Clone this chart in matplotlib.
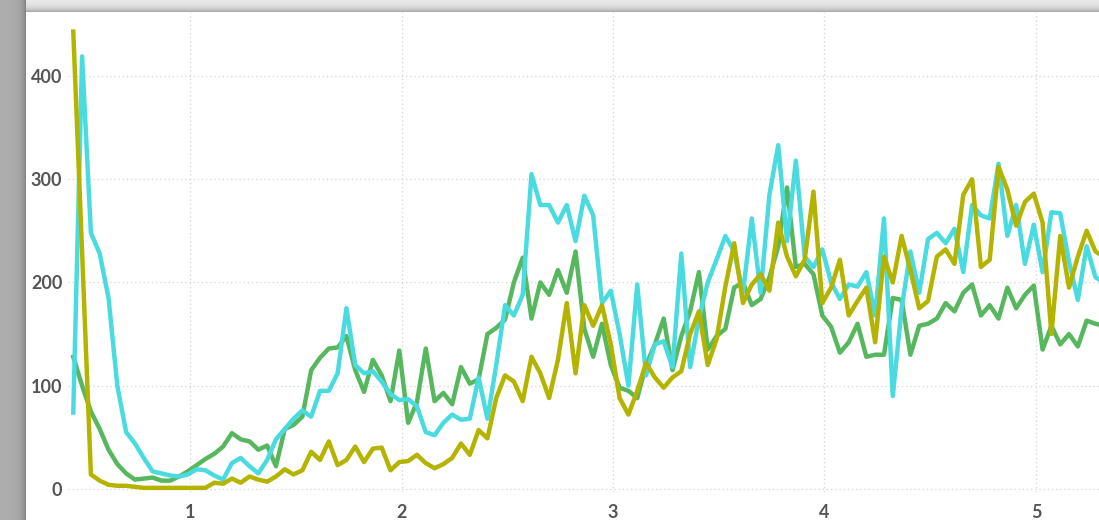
import numpy as np
import matplotlib
matplotlib.use("Agg")
import matplotlib.pyplot as plt

# hourly readings, x axis is in days
start_hour = 10.75

cyan = [74, 419, 248, 228, 185, 100, 55, 44, 30, 17, 15, 13, 12, 14, 19, 18, 13, 9, 25, 30,
        22, 15, 28, 48, 58, 68, 76, 70, 95, 95, 112, 175, 120, 112, 114, 104, 92, 86, 87, 80,
        55, 52, 64, 72, 67, 68, 108, 68, 120, 178, 168, 188, 305, 275, 275, 258, 275, 240, 284, 265,
        180, 192, 150, 100, 198, 110, 140, 143, 118, 228, 118, 165, 200, 222, 245, 230, 190, 262, 190, 285,
        333, 240, 318, 225, 215, 232, 200, 184, 198, 196, 210, 168, 262, 90, 175, 230, 190, 242, 248, 238,
        252, 210, 275, 265, 262, 315, 245, 275, 218, 256, 210, 268, 267, 220, 183, 235, 205, 200]

green = [128, 100, 75, 58, 38, 24, 15, 9, 10, 11, 8, 8, 12, 17, 23, 29, 34, 41, 54, 48,
         46, 38, 42, 22, 58, 62, 70, 115, 127, 136, 137, 148, 115, 94, 125, 110, 85, 134, 64, 84,
         136, 85, 93, 82, 118, 102, 106, 150, 156, 164, 200, 224, 165, 200, 188, 212, 190, 230, 155, 128,
         160, 120, 98, 95, 88, 120, 140, 165, 115, 148, 172, 210, 135, 148, 155, 195, 200, 178, 184, 205,
         235, 292, 215, 218, 208, 168, 157, 132, 142, 160, 128, 130, 130, 185, 183, 130, 158, 160, 165, 180,
         172, 190, 198, 168, 178, 165, 195, 175, 188, 197, 135, 158, 140, 150, 138, 163, 160, 158]

olive = [443, 230, 14, 8, 4, 3, 3, 2, 1, 1, 1, 1, 1, 1, 1, 1, 6, 5, 10, 6,
         12, 9, 7, 12, 19, 14, 18, 36, 28, 46, 23, 28, 41, 26, 39, 40, 18, 26, 27, 33,
         25, 20, 24, 30, 44, 33, 57, 49, 88, 110, 104, 85, 128, 112, 88, 125, 180, 112, 178, 158,
         178, 140, 88, 72, 95, 122, 108, 98, 108, 114, 150, 172, 120, 145, 196, 238, 180, 198, 208, 192,
         258, 225, 206, 222, 288, 180, 195, 222, 168, 182, 195, 142, 225, 200, 245, 212, 175, 182, 225, 232,
         218, 285, 300, 215, 222, 312, 290, 255, 278, 286, 258, 150, 245, 195, 225, 250, 230, 225]

x_ticks = [1, 2, 3, 4, 5]
y_ticks = [0, 100, 200, 300, 400]

x = (np.arange(len(cyan)) + start_hour) / 24

W, H = 1099, 520
fig = plt.figure(figsize=(W / 100, H / 100), dpi=100)

# drop shadow around the white panel (top and left edges)
bg = fig.add_axes([0, 0, 1, 1])
yy, xx = np.mgrid[0:H, 0:W]
shade = np.ones((H, W))
left = xx < 26
top = yy < 12
shade[top] = 0.93 - 0.33 * np.exp(-(12 - yy[top]) / 4.0)
shade[left] = 0.68 - 0.2 * np.exp(-(26 - xx[left]) / 4.0)
bg.imshow(np.dstack([shade] * 3), aspect="auto", interpolation="bilinear")
bg.axis("off")

ax = fig.add_axes([68 / W, 28 / H, 1 - 68 / W, 480 / H])
ax.plot(x, green, color="#57b75e", lw=3.2)
ax.plot(x, cyan, color="#4adbe0", lw=3.2)
ax.plot(x, olive, color="#b4b400", lw=3.2)

ax.set_xlim(0.423, 5.298)
ax.set_ylim(-3, 462)
ax.set_xticks(x_ticks)
ax.set_yticks(y_ticks)
ax.grid(True, linestyle=(0, (1, 2)), color="#d8d8d8", lw=1)
ax.set_axisbelow(True)
for s in ax.spines.values():
    s.set_visible(False)
ax.tick_params(length=0, labelsize=13, labelcolor="#555555")
ax.tick_params(axis="x", pad=9)
ax.tick_params(axis="y", pad=4)
for lab in ax.get_xticklabels() + ax.get_yticklabels():
    lab.set_fontfamily("Lato")
    lab.set_fontweight("bold")
ax.patch.set_alpha(0)

fig.savefig("out.png", dpi=100)
